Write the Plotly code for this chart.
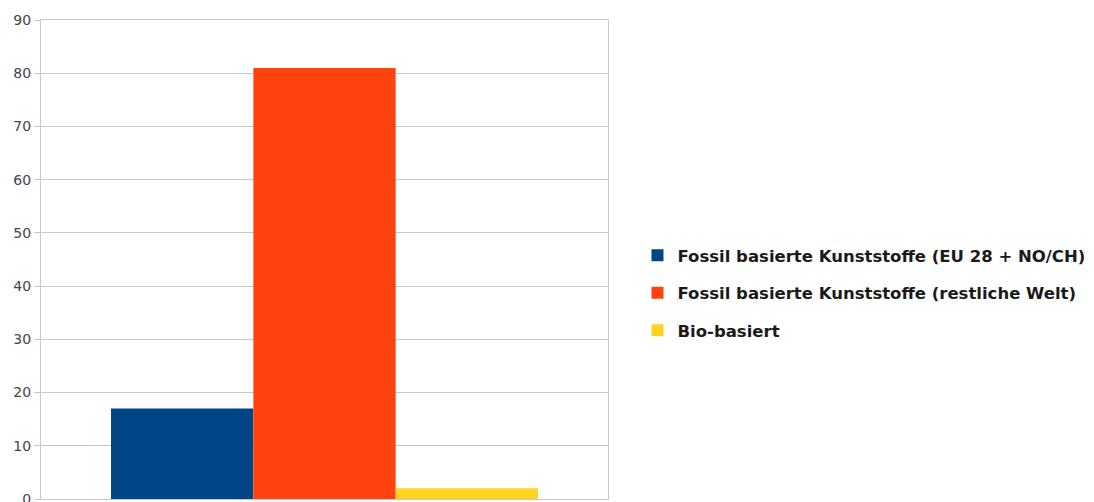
import plotly.graph_objects as go

categories = [""]
series_names = [
    "Fossil basierte Kunststoffe (EU 28 + NO/CH)",
    "Fossil basierte Kunststoffe (restliche Welt)",
    "Bio-basiert",
]
series_values = [[17], [81], [2]]
series_colors = ["#004586", "#ff420e", "#ffd320"]
y_ticks = [0, 10, 20, 30, 40, 50, 60, 70, 80, 90]

fig = go.Figure()
for i, (name, vals, col) in enumerate(zip(series_names, series_values, series_colors)):
    fig.add_trace(go.Bar(
        x=categories, y=vals, name="<b>" + name + "</b>",
        marker=dict(color=col, line=dict(width=0)),
        legendgroup=f"g{i}",
    ))

fig.update_layout(
    width=1094, height=502,
    margin=dict(l=41, r=486, t=20, b=3),
    paper_bgcolor="white", plot_bgcolor="white",
    barmode="group", bargap=0.247, bargroupgap=0,
    font=dict(family="DejaVu Sans, Liberation Sans, Arial, sans-serif", color="#333333"),
    legend=dict(
        x=1.052, xanchor="left", y=0.43, yanchor="middle",
        font=dict(size=16.5, color="#1a1a1a"),
        tracegroupgap=13, traceorder="grouped",
        itemwidth=30,
    ),
    showlegend=True,
)
fig.update_yaxes(
    range=[0, 90], tickvals=y_ticks, ticktext=[str(v) for v in y_ticks],
    showgrid=True, gridcolor="#c8c8c8", gridwidth=1,
    showline=True, linecolor="#c8c8c8", mirror=True,
    ticks="outside", ticklen=6, tickcolor="#c8c8c8",
    tickfont=dict(size=14, color="#444444"), zeroline=False,
    ticklabeloverflow="allow", automargin=False,
)
fig.update_xaxes(
    showticklabels=False, showline=True, linecolor="#c8c8c8", mirror=True,
    showgrid=False, automargin=False,
)
fig.write_html("out.html")
